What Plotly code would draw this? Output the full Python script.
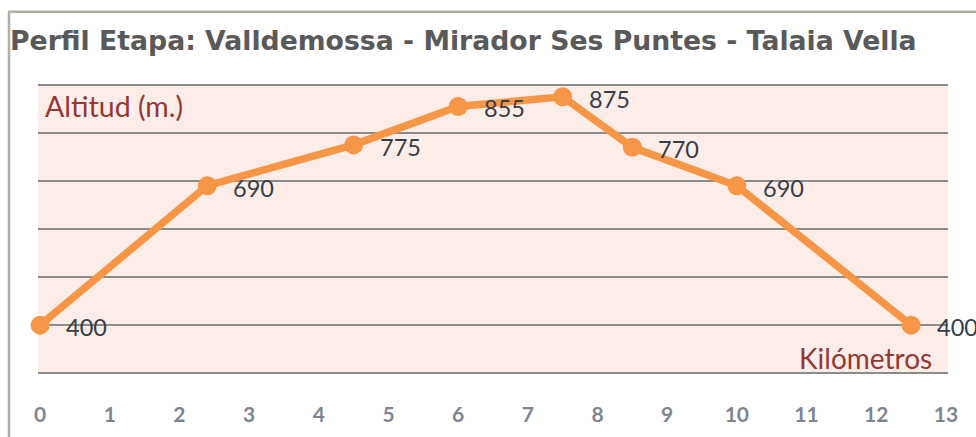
import plotly.graph_objects as go

km = [0, 2.4, 4.5, 6, 7.5, 8.5, 10, 12.5]
altitud = [400, 690, 775, 855, 875, 770, 690, 400]
x_ticks = list(range(0, 14))
y_grid = [300, 400, 500, 600, 700, 800, 900]
title_text = "Perfil Etapa: Valldemossa - Mirador Ses Puntes - Talaia Vella"
y_label = "Altitud (m.)"
x_label = "Kilómetros"

W, H = 976, 437
Y_RANGE = [290, 910]
# plot area in page pixels: x 38..948 ; y (900->85, 300->373)
ppu = (373 - 85) / 600.0
top_px = 85 - (Y_RANGE[1] - 900) * ppu
bot_px = 373 + (300 - Y_RANGE[0]) * ppu
ml, mr = 38, W - 948
mt, mb = top_px, H - bot_px
pw, ph = W - ml - mr, H - mt - mb

def px_x(p):
    return (p - ml) / pw

def px_y(p):
    return (H - mb - p) / ph

fig = go.Figure()
fig.add_trace(go.Scatter(
    x=km, y=altitud, mode="lines+markers",
    line=dict(color="#F79646", width=7.5),
    marker=dict(color="#F79646", size=19),
    hoverinfo="skip", showlegend=False, cliponaxis=False,
))

annotations = []
for xv, yv in zip(km, altitud):
    annotations.append(dict(
        x=xv, y=yv, xref="x", yref="y", text=str(yv), showarrow=False,
        xanchor="left", yanchor="middle", xshift=24, yshift=-2,
        font=dict(family="Lato", size=23.5, color="#383d47"),
    ))
annotations.append(dict(
    x=px_x(43), y=px_y(106), xref="paper", yref="paper", text=y_label,
    showarrow=False, xanchor="left", yanchor="middle",
    font=dict(family="Lato", size=28.5, color="#953735"),
))
annotations.append(dict(
    x=px_x(934), y=px_y(358), xref="paper", yref="paper", text=x_label,
    showarrow=False, xanchor="right", yanchor="middle",
    font=dict(family="Lato", size=28, color="#953735"),
))

shapes = [
    dict(type="rect", xref="paper", yref="y", x0=0, x1=1,
         y0=min(y_grid), y1=max(y_grid), fillcolor="#FCEDE8",
         line=dict(width=0), layer="below"),
    dict(type="line", xref="paper", yref="paper",
         x0=px_x(8), x1=px_x(W), y0=px_y(12), y1=px_y(12),
         line=dict(color="#b3aea6", width=2.5), layer="above"),
    dict(type="line", xref="paper", yref="paper",
         x0=px_x(9), x1=px_x(9), y0=px_y(12), y1=px_y(H),
         line=dict(color="#b3aea6", width=2.5), layer="above"),
]

fig.update_layout(
    width=W, height=H,
    margin=dict(l=ml, r=mr, t=mt, b=mb, pad=0, autoexpand=False),
    paper_bgcolor="white", plot_bgcolor="white",
    title=dict(text=title_text, xref="container", yref="container",
               x=10 / W, xanchor="left", y=1 - 41 / H, yanchor="middle",
               font=dict(family="DejaVu Sans", size=26.7, color="#595959", weight="bold")),
    xaxis=dict(range=[-0.03, 13.03], tickvals=x_ticks, ticktext=[str(t) for t in x_ticks],
               showgrid=False, zeroline=False, showline=False, ticks="",
               tickfont=dict(family="Lato", size=21, color="#7f8590", weight="bold"),
               ticklabelstandoff=22, automargin=False, fixedrange=True),
    yaxis=dict(range=Y_RANGE, tickvals=y_grid, showgrid=True,
               gridcolor="#8c8c8c", gridwidth=1.5, automargin=False,
               zeroline=False, showline=False, showticklabels=False, ticks="", fixedrange=True),
    annotations=annotations, shapes=shapes,
)

fig.write_html("out.html", config={"displayModeBar": False, "staticPlot": True},
               post_script="document.body.style.margin='0px';document.body.style.overflow='hidden';")
